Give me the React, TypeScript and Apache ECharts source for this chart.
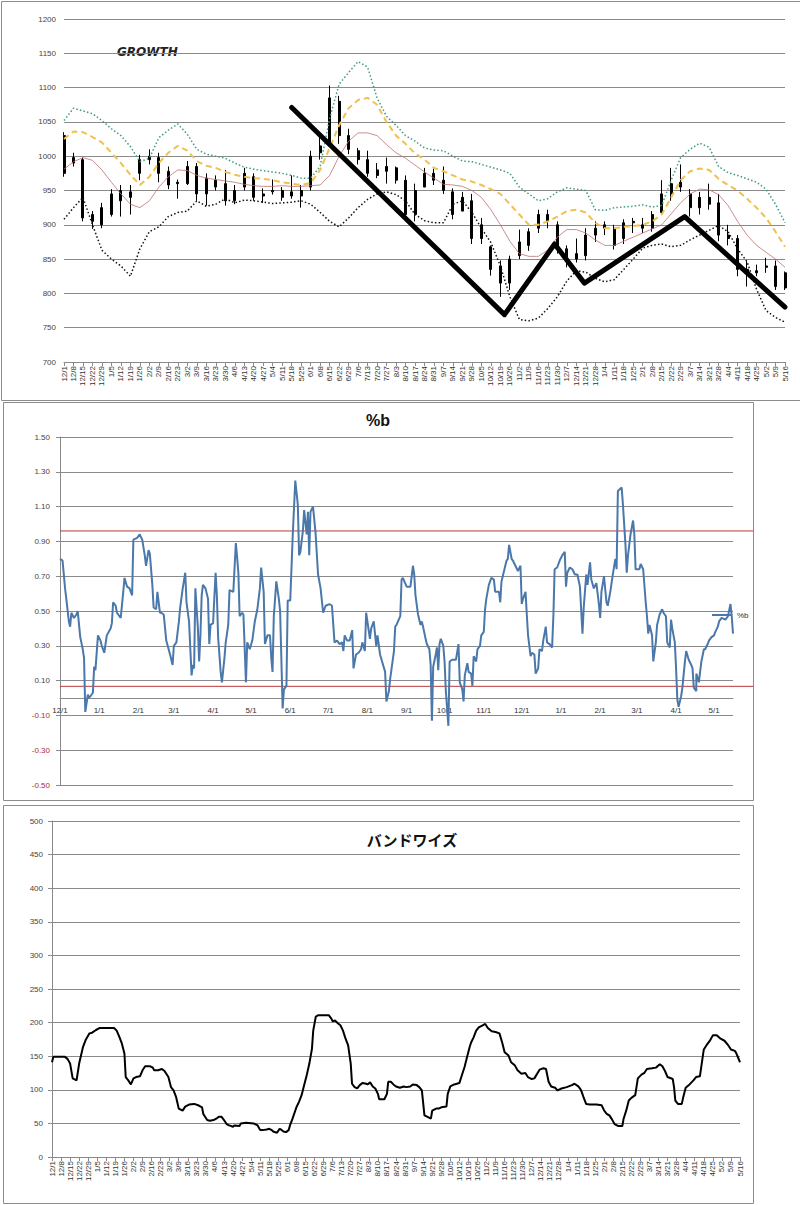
import React, { useEffect, useRef } from "react";
import * as echarts from "echarts";

// ---------- TOP CHART (GROWTH) : weekly categories ----------
const weekLabels = [
  "12/1","12/8","12/15","12/22","12/29","1/5","1/12","1/19","1/26","2/2","2/9","2/16","2/23",
  "3/2","3/9","3/16","3/23","3/30","4/6","4/13","4/20","4/27","5/4","5/11","5/18","5/25",
  "6/1","6/8","6/15","6/22","6/29","7/6","7/13","7/20","7/27","8/3","8/10","8/17","8/24","8/31",
  "9/7","9/14","9/21","9/28","10/5","10/12","10/19","10/26","11/2","11/9","11/16","11/23","11/30",
  "12/7","12/14","12/21","12/28","1/4","1/11","1/18","1/25","2/1","2/8","2/15","2/22","2/29",
  "3/7","3/14","3/21","3/28","4/4","4/11","4/18","4/25","5/2","5/9","5/16"
];

const weekOpen = [1030,990,995,915,925,915,935,948,975,995,998,978,960,960,985,945,965,960,935,955,
  970,942,948,950,948,942,955,1005,1020,1080,1030,1008,995,980,978,983,965,915,955,975,
  965,948,920,935,900,868,840,815,855,870,895,915,900,865,850,855,885,895,895,880,
  905,900,895,918,945,962,945,925,940,932,885,880,835,830,840,840,830];
const weekClose = [975,998,910,905,900,945,950,940,995,1000,975,958,962,985,945,968,955,935,950,975,
  940,945,950,940,942,950,1000,1015,1085,1030,1010,995,975,972,985,965,915,950,975,965,
  950,915,940,880,880,835,815,850,875,890,915,905,865,850,858,885,895,900,870,903,
  903,895,915,945,960,955,925,940,930,885,880,835,830,833,838,810,808];
const weekLow = [970,985,905,894,895,912,912,915,965,988,962,952,938,958,935,928,950,928,930,950,
  935,932,944,935,938,925,950,995,1015,1018,1003,988,970,968,960,960,905,905,955,958,
  945,908,920,872,872,826,795,805,850,862,888,895,858,838,845,848,875,885,864,872,
  888,888,890,915,935,948,912,915,922,876,870,825,810,825,830,805,805];
const weekHigh = [1035,1005,998,920,932,952,958,958,1002,1010,1005,985,966,993,990,975,972,980,958,983,
  975,953,966,955,972,958,1008,1030,1103,1088,1040,1012,1008,990,998,985,972,960,983,982,
  985,953,948,945,910,870,848,855,893,895,922,922,905,870,880,895,905,905,900,908,
  910,910,920,965,983,988,952,948,960,945,900,885,848,842,852,848,832];

const bandUpper = [1052,1070,1066,1062,1052,1040,1030,1014,992,997,1027,1038,1047,1032,1010,1003,1000,997,990,984,
  981,979,977,975,972,968,968,985,1055,1105,1122,1138,1130,1085,1058,1045,1030,1022,1012,1009,
  1008,1000,993,992,988,984,980,975,955,945,935,938,948,954,952,950,922,921,925,926,
  927,929,926,928,965,998,1010,1019,1013,985,976,972,967,962,952,930,903];
const bandMidUpper = [1025,1036,1035,1028,1020,1005,990,973,958,970,990,1005,1015,1008,993,986,983,977,973,970,
  968,967,965,962,960,958,961,980,1012,1045,1070,1082,1085,1075,1050,1030,1018,1004,995,983,
  978,972,966,963,958,952,945,930,915,900,900,905,912,920,922,918,903,895,895,897,
  898,900,905,915,940,965,978,982,980,967,958,950,938,925,910,890,868];
const bandMiddle = [981,992,998,994,980,962,945,930,925,935,955,970,980,979,972,968,966,964,962,959,
  957,956,956,957,956,956,957,958,972,1000,1022,1034,1034,1030,1017,1005,997,987,977,968,
  959,958,956,950,940,922,900,876,858,854,854,863,882,893,893,888,878,870,870,876,
  882,888,894,900,916,932,945,952,951,944,928,905,885,870,860,850,838];
const bandLower = [908,925,940,900,863,850,840,825,865,890,897,912,918,920,935,927,930,938,932,936,
  935,933,931,932,933,935,930,918,905,897,910,925,937,945,948,944,935,915,906,903,
  903,930,935,918,895,874,840,795,762,760,764,778,795,818,833,831,822,817,820,835,
  850,866,870,872,868,870,878,885,892,899,890,865,846,806,775,765,758];

const trendDates = ["2015-05-18","2015-10-22","2015-11-28","2015-12-20","2016-03-03","2016-05-16"];
const trendValues = [1071, 769, 872, 815, 912, 780];

// ---------- %b CHART (daily) ----------
const pctBDays = [0,2,3,4,5,7,8,9,11,13,14,16,18,19,20,22,23,26,27,28,30,32,33,35,37,40,41,42,44,45,48,50,51,53,55,57,58,61,63,65,67,68,70,71,73,74,76,77,79,80,82,84,87,89,90,92,94,95,97,99,100,102,104,105,106,107,109,110,111,112,113,115,117,118,119,121,123,124,125,127,128,130,131,133,134,137,139,140,141,142,144,145,147,148,150,152,154,156,158,159,161,162,164,166,167,168,169,171,173,174,176,177,179,180,182,184,186,188,189,190,192,193,195,196,197,198,200,202,204,206,208,210,213,215,217,219,221,223,224,225,227,229,231,232,234,236,238,239,241,242,245,246,248,250,251,253,255,257,258,260,261,264,265,266,269,
  270,271,274,277,279,280,281,283,285,286,287,289,290,292,293,294,295,297,298,299,300,301,303,304,305,307,308,310,313,315,316,318,319,320,322,323,325,326,327,329,330,332,333,335,336,337,339,341,343,344,347,348,349,351,353,354,355,357,358,360,362,364,365,366,368,369,370,372,373,375,376,378,379,381,382,384,385,387,389,390,391,393,395,397,399,400,401,403,405,407,409,411,413,414,416,417,419,420,422,424,426,427,428,430,432,433,435,437,439,440,441,444,445,447,448,449,451,453,454,455,458,459,461,463,464,465,466,468,469,471,472,474,476,477,479,480,482,483,484,486,487,488,489,491,492,494,495,497,499,500,501,503,503,505,506,507,509,510,512,513,515,517,518,520,521,523,526,528,530,531,532];
const pctBValues = [0.80,0.79,0.71,0.63,0.57,0.44,0.41,0.49,0.46,0.48,0.50,0.35,0.28,0.23,-0.08,0.02,0.00,0.03,0.18,0.16,0.36,0.33,0.30,0.26,0.36,0.40,0.43,0.55,0.53,0.49,0.46,0.61,0.69,0.64,0.63,0.59,0.91,0.92,0.94,0.91,0.82,0.76,0.85,0.83,0.65,0.52,0.51,0.61,0.49,0.49,0.48,0.33,0.25,0.19,0.30,0.32,0.44,0.52,0.63,0.72,0.55,0.44,0.13,0.19,0.17,0.63,0.40,0.21,0.36,0.59,0.65,0.63,0.57,0.31,0.42,0.43,0.72,0.59,0.35,0.15,0.09,0.23,0.32,0.42,0.62,0.61,0.89,0.81,0.72,0.47,0.49,0.48,0.09,0.32,0.28,0.33,0.44,0.51,0.63,0.75,0.61,0.31,0.36,0.36,0.23,0.15,0.47,0.67,0.57,0.50,-0.06,0.05,0.07,0.56,0.56,0.94,1.25,1.11,0.82,0.84,0.96,1.08,0.94,1.07,0.82,1.07,1.10,0.95,0.71,0.63,0.49,0.53,0.54,0.53,0.32,0.33,0.31,0.32,0.27,0.36,0.33,0.33,0.39,0.17,0.25,0.26,0.28,0.32,0.27,0.49,0.34,0.40,0.44,0.30,0.36,0.25,0.20,0.15,-0.02,0.04,0.11,0.27,0.41,0.42,0.47,
  0.68,0.69,0.64,0.64,0.76,0.71,0.59,0.48,0.42,0.44,0.41,0.34,0.31,0.28,0.19,-0.13,0.18,0.25,0.29,0.16,0.31,0.34,0.30,0.21,0.04,-0.16,0.21,0.22,0.22,0.31,0.09,0.05,-0.02,0.13,0.20,0.15,0.14,0.07,0.24,0.21,0.28,0.30,0.36,0.38,0.51,0.57,0.65,0.69,0.68,0.61,0.61,0.55,0.67,0.73,0.79,0.80,0.88,0.80,0.79,0.76,0.73,0.76,0.54,0.57,0.61,0.48,0.36,0.24,0.26,0.25,0.14,0.17,0.28,0.27,0.33,0.41,0.32,0.31,0.29,0.47,0.74,0.75,0.79,0.82,0.84,0.64,0.72,0.75,0.74,0.71,0.71,0.64,0.37,0.52,0.71,0.65,0.78,0.68,0.63,0.66,0.54,0.46,0.61,0.70,0.55,0.53,0.61,0.71,0.80,0.74,1.19,1.21,1.11,0.88,0.72,0.82,0.94,1.02,0.94,0.74,0.74,0.77,0.74,0.55,0.47,0.37,0.42,0.36,0.21,0.32,0.42,0.48,0.51,0.49,0.47,0.32,0.29,0.45,0.40,0.32,0.17,-0.01,-0.05,0.01,0.06,0.21,0.27,0.22,0.19,0.17,0.06,0.04,0.14,0.09,0.15,0.21,0.28,0.28,0.31,0.33,0.35,0.36,0.38,0.41,0.44,0.46,0.45,0.47,0.54,0.47,0.37];
const pctBGuides = [0.96, 0.067];

// ---------- BANDWIDTH CHART (daily) ----------
const bwDays = [0,1,3,10,12,14,16,19,21,24,26,29,31,34,37,42,48,50,52,54,56,57,59,61,63,65,68,70,72,76,78,79,82,85,87,90,92,94,96,98,101,103,106,110,113,116,117,120,122,125,127,129,131,133,135,137,140,141,145,146,150,156,159,161,163,166,168,170,171,174,176,177,179,181,183,184,186,189,191,193,195,197,199,201,202,204,206,210,214,216,217,219,221,223,225,227,229,231,232,234,236,238,240,243,244,246,248,250,252,253,257,259,260,262,264,266,269,
  272,274,277,279,282,284,286,288,290,293,294,297,299,301,305,306,308,311,315,317,319,321,323,324,326,328,330,333,335,337,340,343,346,348,350,353,355,358,360,363,366,368,371,373,377,380,382,384,386,389,391,394,398,402,404,407,409,411,413,416,421,425,427,429,431,433,435,438,441,442,444,446,448,451,453,456,458,460,464,467,470,472,474,476,480,481,482,484,487,488,490,493,496,498,501,504,506,509,511,514,517,520,523,525,528,529,532];
const bwValues = [141,149,149,149,146,139,117,114,139,164,174,184,185,189,192,192,192,188,179,169,154,119,114,108,117,119,120,129,135,135,133,129,129,131,128,119,104,99,89,72,69,75,78,79,77,74,64,55,54,55,57,60,60,55,49,47,45,47,46,50,51,50,47,40,40,41,42,40,38,36,42,41,38,37,40,47,57,74,82,92,107,122,139,161,188,209,211,211,211,206,202,203,199,196,188,176,166,139,109,104,102,107,110,109,108,111,105,102,94,86,86,94,112,112,108,105,103,
  105,104,105,108,107,104,99,62,60,57,69,72,72,74,75,94,105,108,110,122,134,149,164,170,178,188,193,196,198,192,187,186,184,171,156,151,141,136,129,124,125,119,116,117,130,132,131,112,105,103,99,102,104,107,109,105,100,89,79,78,78,77,69,64,62,56,49,46,46,57,69,84,88,92,117,123,125,131,132,133,138,135,128,119,116,104,84,79,79,88,103,108,114,119,120,160,166,174,181,181,176,173,166,160,158,155,141];

const START = Date.UTC(2014, 11, 1);
const DAY = 86400000;
const dayLabels: string[] = Array.from({ length: 533 }, (_, i) => {
  const d = new Date(START + i * DAY);
  return `${d.getUTCMonth() + 1}/${d.getUTCDate()}`;
});

const GRID = "#8a8a8a";
const LABEL = "#444";
const FONT = "'Liberation Sans', Arial, sans-serif";

export default function App() {
  const ref = useRef<HTMLDivElement>(null);
  useEffect(() => {
    if (!ref.current) return;
    const chart = echarts.init(ref.current, undefined, { renderer: "svg" });

    const candles = weekOpen.map((o, i) => [o, weekClose[i], weekLow[i], weekHigh[i]]);
    const trend = trendDates.map((d, i) => [
      (Date.parse(d + "T00:00:00Z") - START) / DAY / 7,
      trendValues[i],
    ]);
    const pctB = pctBDays.map((d, i) => [d, pctBValues[i]]);
    const bw = bwDays.map((d, i) => [d, bwValues[i]]);
    const monthStart = (_i: number, v: string) => v.split("/")[1] === "1";
    const weekly = (i: number) => i % 7 === 0;

    // %b plot: top 437, height 348, range -0.5..1.5 -> zero line height from top
    const pbTop = 437, pbH = 348;
    const zeroH = pbH * (1.5 / 2.0);

    const option: any = {
      animation: false,
      backgroundColor: "#fff",
      textStyle: { fontFamily: FONT },
      grid: [
        { left: 64, top: 19, width: 721, height: 343 },
        { left: 60, top: pbTop, width: 673, height: pbH },
        { left: 60, top: pbTop, width: 693, height: pbH },
        { left: 52, top: 821, width: 688, height: 336 },
        { left: 60, top: pbTop, width: 673, height: zeroH },
      ],
      legend: {
        data: [{ name: "%b", icon: "rect" }],
        left: 712,
        top: 611,
        itemWidth: 20,
        itemHeight: 2,
        itemGap: 2,
        padding: 0,
        textStyle: { fontSize: 8, color: "#333", fontFamily: FONT },
      },
      xAxis: [
        {
          type: "category", gridIndex: 0, data: weekLabels, boundaryGap: false,
          axisLine: { lineStyle: { color: GRID } },
          axisTick: { show: true, interval: 0, length: 4, lineStyle: { color: GRID } },
          axisLabel: { interval: 0, rotate: 90, fontSize: 8, color: "#333", margin: 4 },
          splitLine: { show: false },
        },
        { type: "value", gridIndex: 0, min: 0, max: 76, show: false },
        {
          type: "category", gridIndex: 1, data: dayLabels, boundaryGap: false, show: false,
        },
        { type: "value", gridIndex: 2, min: 0, max: 1, show: false },
        {
          type: "category", gridIndex: 3, data: dayLabels, boundaryGap: false,
          axisLine: { lineStyle: { color: GRID } },
          axisTick: { show: true, interval: weekly, length: 4, lineStyle: { color: GRID } },
          axisLabel: { interval: weekly, rotate: 90, fontSize: 8, color: "#333", margin: 4 },
          splitLine: { show: false },
        },
        {
          type: "category", gridIndex: 4, data: dayLabels, boundaryGap: false,
          axisLine: { lineStyle: { color: GRID } },
          axisTick: { show: false },
          axisLabel: { interval: monthStart, fontSize: 8, color: "#333", margin: 8 },
          splitLine: { show: false },
        },
      ],
      yAxis: [
        {
          type: "value", gridIndex: 0, min: 700, max: 1200, interval: 50,
          axisLine: { show: false }, axisTick: { show: false },
          axisLabel: { fontSize: 8, color: LABEL, margin: 8, formatter: (v: number) => String(v) },
          splitLine: { lineStyle: { color: GRID, width: 1 } },
        },
        {
          type: "value", gridIndex: 1, min: -0.5, max: 1.5, interval: 0.2,
          axisLine: { show: true, lineStyle: { color: GRID } },
          axisTick: { show: true, length: 4, lineStyle: { color: GRID } },
          axisLabel: {
            fontSize: 8, margin: 10,
            formatter: (v: number) => v.toFixed(2),
            color: (v: any) => (Number(v) < 0 ? "#b42a2a" : LABEL),
          },
          splitLine: { lineStyle: { color: GRID, width: 1 } },
        },
        { type: "value", gridIndex: 2, min: -0.5, max: 1.5, show: false },
        {
          type: "value", gridIndex: 3, min: 0, max: 500, interval: 50,
          axisLine: { show: true, lineStyle: { color: GRID } },
          axisTick: { show: true, length: 4, lineStyle: { color: GRID } },
          axisLabel: { fontSize: 8, color: LABEL, margin: 9 },
          splitLine: { lineStyle: { color: GRID, width: 1 } },
        },
        { type: "value", gridIndex: 4, min: 0, max: 1, show: false },
      ],
      series: [
        {
          name: "upper", type: "line", xAxisIndex: 0, yAxisIndex: 0, data: bandUpper,
          symbol: "none", silent: true,
          lineStyle: { color: "#3f9a7e", width: 1.5, type: [1.5, 2.2] },
        },
        {
          name: "midUpper", type: "line", xAxisIndex: 0, yAxisIndex: 0, data: bandMidUpper,
          symbol: "none", silent: true,
          lineStyle: { color: "#f1c04e", width: 2, type: [6, 4] },
        },
        {
          name: "middle", type: "line", xAxisIndex: 0, yAxisIndex: 0, data: bandMiddle,
          symbol: "none", silent: true,
          lineStyle: { color: "#c07070", width: 0.8 },
        },
        {
          name: "lower", type: "line", xAxisIndex: 0, yAxisIndex: 0, data: bandLower,
          symbol: "none", silent: true,
          lineStyle: { color: "#111", width: 1.5, type: [1.5, 2.2] },
        },
        {
          name: "price", type: "candlestick", xAxisIndex: 0, yAxisIndex: 0, data: candles,
          barWidth: 2.5, silent: true,
          itemStyle: { color: "#000", color0: "#000", borderColor: "#000", borderColor0: "#000", borderWidth: 1 },
        },
        {
          name: "trend", type: "line", xAxisIndex: 1, yAxisIndex: 0, data: trend,
          symbol: "none", silent: true,
          lineStyle: { color: "#000", width: 5, cap: "round", join: "round" },
        },
        {
          name: "guideHigh", type: "line", xAxisIndex: 3, yAxisIndex: 2,
          data: [[0, pctBGuides[0]], [1, pctBGuides[0]]],
          symbol: "none", silent: true, lineStyle: { color: "#b83a3a", width: 1 },
        },
        {
          name: "guideLow", type: "line", xAxisIndex: 3, yAxisIndex: 2,
          data: [[0, pctBGuides[1]], [1, pctBGuides[1]]],
          symbol: "none", silent: true, lineStyle: { color: "#b83a3a", width: 1 },
        },
        {
          name: "%b", type: "line", xAxisIndex: 2, yAxisIndex: 1, data: pctB,
          symbol: "none", silent: true,
          lineStyle: { color: "#4a78aa", width: 2 },
          itemStyle: { color: "#4a78aa" },
        },
        {
          name: "bandwidth", type: "line", xAxisIndex: 4, yAxisIndex: 3, data: bw,
          symbol: "none", silent: true,
          lineStyle: { color: "#000", width: 2 },
        },
      ],
      graphic: [
        { type: "rect", silent: true, z: -10, shape: { x: 1.5, y: 1.5, width: 830, height: 399 }, style: { fill: "none", stroke: "#8c8c8c", lineWidth: 1 } },
        { type: "rect", silent: true, z: -10, shape: { x: 3.5, y: 402.5, width: 750, height: 398 }, style: { fill: "#fff", stroke: "#8c8c8c", lineWidth: 1 } },
        { type: "rect", silent: true, z: -10, shape: { x: 3.5, y: 805.5, width: 750, height: 398 }, style: { fill: "#fff", stroke: "#8c8c8c", lineWidth: 1 } },
        { type: "text", silent: true, x: 117, y: 46, style: { text: "GROWTH", font: "italic bold 12px 'DejaVu Sans'", fill: "#222", verticalAlign: "top" } },
        { type: "text", silent: true, x: 378, y: 412, style: { text: "%b", font: "bold 16px 'Liberation Sans'", fill: "#111", align: "center", verticalAlign: "top" } },
        { type: "text", silent: true, x: 412, y: 832, style: { text: "バンドワイズ", font: "bold 15px 'Noto Sans CJK JP'", fill: "#111", align: "center", verticalAlign: "top" } },
      ],
    };
    chart.setOption(option);
    return () => chart.dispose();
  }, []);

  return (
    <div
      ref={ref}
      style={{ position: "absolute", left: 0, top: 0, width: 800, height: 1205, background: "#fff" }}
    />
  );
}
